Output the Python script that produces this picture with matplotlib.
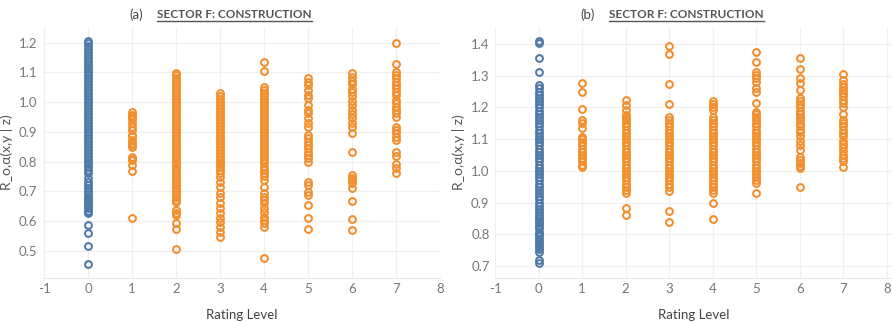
import matplotlib
matplotlib.use("Agg")
import matplotlib.pyplot as plt
from matplotlib.lines import Line2D

plt.rcParams['font.family'] = ['Lato', 'DejaVu Sans']
plt.rcParams['axes.unicode_minus'] = False

BLUE = '#4e79a7'
ORANGE = '#f28e2b'

# ---- panel (a): rating level -> R values ----
a_r0 = [1.205, 1.20, 1.19, 1.18, 1.17, 1.16, 1.15, 1.14, 1.13, 1.12, 1.11, 1.10,
        1.09, 1.08, 1.07, 1.06, 1.05, 1.04, 1.03, 1.02, 1.01, 1.00, 0.99, 0.98,
        0.97, 0.96, 0.95, 0.94, 0.93, 0.92, 0.91, 0.90, 0.89, 0.88, 0.87, 0.86,
        0.85, 0.84, 0.83, 0.82, 0.81, 0.80, 0.79, 0.78, 0.77, 0.76, 0.745, 0.73,
        0.72, 0.71, 0.70, 0.69, 0.68, 0.675, 0.665, 0.66, 0.65, 0.645, 0.635,
        0.63, 0.625, 0.586, 0.558, 0.517, 0.454]
a_r1 = [0.968, 0.958, 0.95, 0.942, 0.93, 0.917, 0.905, 0.89, 0.886, 0.872,
        0.862, 0.856, 0.848, 0.816, 0.81, 0.805, 0.788, 0.768, 0.609]
a_r2 = [1.099, 1.09, 1.08, 1.07, 1.06, 1.05, 1.04, 1.03, 1.02, 1.01, 1.00,
        0.99, 0.98, 0.97, 0.96, 0.95, 0.94, 0.93, 0.92, 0.91, 0.90, 0.89, 0.88,
        0.87, 0.86, 0.85, 0.84, 0.83, 0.82, 0.81, 0.80, 0.79, 0.78, 0.77, 0.76,
        0.75, 0.74, 0.73, 0.72, 0.71, 0.70, 0.69, 0.68, 0.67, 0.665, 0.636,
        0.628, 0.62, 0.594, 0.572, 0.505]
a_r3 = [1.03, 1.02, 1.01, 1.00, 0.99, 0.98, 0.97, 0.96, 0.95, 0.94, 0.93, 0.92,
        0.91, 0.90, 0.89, 0.88, 0.87, 0.86, 0.85, 0.84, 0.83, 0.82, 0.81, 0.80,
        0.79, 0.78, 0.771, 0.760, 0.749, 0.732, 0.715, 0.693, 0.681, 0.659,
        0.642, 0.626, 0.609, 0.597, 0.580, 0.564, 0.547]
a_r4 = [1.136, 1.105, 1.052, 1.04, 1.03, 1.02, 1.01, 1.00, 0.99, 0.98, 0.97,
        0.96, 0.95, 0.94, 0.93, 0.92, 0.91, 0.90, 0.89, 0.88, 0.87, 0.86, 0.85,
        0.84, 0.83, 0.82, 0.81, 0.80, 0.794, 0.783, 0.77, 0.76, 0.75, 0.738,
        0.715, 0.693, 0.681, 0.670, 0.659, 0.642, 0.631, 0.614, 0.603, 0.592,
        0.580, 0.474]
a_r5 = [1.082, 1.069, 1.058, 1.041, 1.024, 1.013, 0.990, 0.973, 0.962, 0.945,
        0.929, 0.917, 0.889, 0.878, 0.867, 0.856, 0.844, 0.833, 0.822, 0.811,
        0.80, 0.732, 0.721, 0.698, 0.687, 0.653, 0.609, 0.572]
a_r6 = [1.097, 1.085, 1.072, 1.06, 1.045, 1.035, 1.02, 1.005, 0.99, 0.975,
        0.96, 0.945, 0.93, 0.917, 0.895, 0.833, 0.755, 0.745, 0.738, 0.727,
        0.71, 0.668, 0.606, 0.569]
a_r7 = [1.198, 1.127, 1.102, 1.091, 1.080, 1.069, 1.058, 1.046, 1.035, 1.024,
        1.007, 0.996, 0.985, 0.973, 0.962, 0.949, 0.917, 0.906, 0.895, 0.884,
        0.872, 0.833, 0.819, 0.790, 0.779, 0.760]

# ---- panel (b) ----
b_r0 = [1.41, 1.405, 1.357, 1.313, 1.27, 1.26, 1.25, 1.24, 1.23, 1.22, 1.21,
        1.20, 1.19, 1.18, 1.17, 1.16, 1.15, 1.14, 1.13, 1.12, 1.11, 1.10, 1.09,
        1.08, 1.07, 1.06, 1.05, 1.04, 1.03, 1.02, 1.01, 1.00, 0.99, 0.98, 0.97,
        0.96, 0.95, 0.94, 0.93, 0.92, 0.91, 0.90, 0.89, 0.88, 0.87, 0.86, 0.85,
        0.842, 0.835, 0.826, 0.818, 0.808, 0.80, 0.795, 0.785, 0.775, 0.768,
        0.76, 0.752, 0.745, 0.719, 0.708]
b_r1 = [1.276, 1.248, 1.194, 1.162, 1.15, 1.134, 1.108, 1.10, 1.09, 1.08,
        1.07, 1.06, 1.05, 1.04, 1.03, 1.02, 1.011]
b_r2 = [1.223, 1.208, 1.192, 1.176, 1.166, 1.16, 1.15, 1.14, 1.13, 1.12, 1.11,
        1.10, 1.09, 1.08, 1.07, 1.06, 1.05, 1.04, 1.03, 1.02, 1.01, 1.00, 0.99,
        0.98, 0.97, 0.96, 0.95, 0.94, 0.929, 0.882, 0.861]
b_r3 = [1.394, 1.368, 1.274, 1.210, 1.169, 1.16, 1.15, 1.14, 1.13, 1.12, 1.11,
        1.10, 1.09, 1.08, 1.07, 1.06, 1.05, 1.04, 1.03, 1.02, 1.01, 1.00, 0.99,
        0.98, 0.97, 0.96, 0.95, 0.935, 0.873, 0.839]
b_r4 = [1.22, 1.21, 1.20, 1.192, 1.169, 1.16, 1.15, 1.14, 1.13, 1.12, 1.11,
        1.10, 1.09, 1.08, 1.07, 1.06, 1.05, 1.04, 1.03, 1.02, 1.01, 1.00, 0.99,
        0.98, 0.97, 0.96, 0.95, 0.94, 0.929, 0.897, 0.848]
b_r5 = [1.376, 1.344, 1.313, 1.302, 1.292, 1.281, 1.26, 1.25, 1.215, 1.186,
        1.18, 1.17, 1.16, 1.15, 1.14, 1.13, 1.12, 1.11, 1.10, 1.09, 1.08, 1.07,
        1.06, 1.05, 1.04, 1.03, 1.02, 1.01, 1.00, 0.99, 0.98, 0.97, 0.961,
        0.929]
b_r6 = [1.355, 1.323, 1.292, 1.276, 1.255, 1.229, 1.22, 1.21, 1.20, 1.19,
        1.18, 1.17, 1.16, 1.15, 1.14, 1.129, 1.123, 1.11, 1.095, 1.08, 1.066,
        1.044, 1.035, 1.025, 1.015, 1.008, 0.95]
b_r7 = [1.305, 1.286, 1.275, 1.265, 1.255, 1.245, 1.235, 1.225, 1.215, 1.202,
        1.181, 1.16, 1.15, 1.14, 1.13, 1.12, 1.11, 1.095, 1.085, 1.075, 1.062,
        1.05, 1.04, 1.03, 1.013]

panels = [
    dict(tag='(a)', cols=[a_r0, a_r1, a_r2, a_r3, a_r4, a_r5, a_r6, a_r7],
         yticks=[0.5, 0.6, 0.7, 0.8, 0.9, 1.0, 1.1, 1.2], ylim=(0.408, 1.253),
         xlim=(-1.03, 8.0), rect=[0.048, 0.137, 0.445, 0.779],
         title_x=0.176),
    dict(tag='(b)', cols=[b_r0, b_r1, b_r2, b_r3, b_r4, b_r5, b_r6, b_r7],
         yticks=[0.7, 0.8, 0.9, 1.0, 1.1, 1.2, 1.3, 1.4], ylim=(0.662, 1.454),
         xlim=(-0.98, 8.12), rect=[0.555, 0.137, 0.445, 0.779],
         title_x=0.683),
]

fig = plt.figure(figsize=(8.92, 3.22), dpi=100)
titles = []
for p in panels:
    ax = fig.add_axes(p['rect'])
    for lvl, vals in enumerate(p['cols']):
        ax.plot([lvl] * len(vals), vals, linestyle='none', marker='o',
                markersize=4.9, markerfacecolor='none', markeredgewidth=1.45,
                color=BLUE if lvl == 0 else ORANGE, clip_on=False)
    ax.set_xlim(*p['xlim'])
    ax.set_ylim(*p['ylim'])
    ax.set_xticks(range(-1, 9))
    ax.set_yticks(p['yticks'])
    ax.set_yticklabels(['%.1f' % v for v in p['yticks']])
    ax.grid(True, color='#f0f0f0', linewidth=0.9)
    ax.set_axisbelow(True)
    for s in ['top', 'right', 'left']:
        ax.spines[s].set_visible(False)
    ax.spines['bottom'].set_color('#e8e8e8')
    ax.tick_params(length=0, labelsize=9.5, labelcolor='#777777', pad=4)
    ax.set_xlabel('Rating Level', fontsize=9.5, color='#444444', labelpad=10)
    ax.set_ylabel('R_o,α(x,y | z)', fontsize=10, color='#555555', labelpad=4)

    # title: tag plus underlined sector name
    tx = p['title_x']
    fig.text(tx - 0.016, 0.955, p['tag'], ha='right', va='center',
             fontsize=9.5, color='#444444')
    t2 = fig.text(tx, 0.955, 'SECTOR F: CONSTRUCTION', ha='left',
                  va='center', fontsize=8.5, fontweight='bold', color='#555555')
    titles.append(t2)

fig.canvas.draw()
r = fig.canvas.get_renderer()
for t in titles:
    bb = t.get_window_extent(r).transformed(fig.transFigure.inverted())
    fig.add_artist(Line2D([bb.x0, bb.x1], [bb.y0 - 0.004, bb.y0 - 0.004],
                          transform=fig.transFigure, color='#555555', lw=1.0))

fig.savefig('out.png', dpi=100)
